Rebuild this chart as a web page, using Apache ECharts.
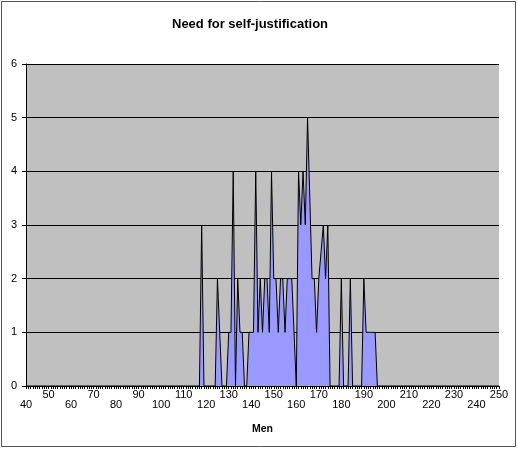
<!DOCTYPE html>
<html>
<head>
<meta charset="utf-8">
<script src="https://cdn.jsdelivr.net/npm/echarts@6/dist/echarts.min.js"></script>
<style>
html,body{margin:0;padding:0;background:#fff;}
#chart{width:518px;height:449px;}
</style>
</head>
<body>
<div id="chart"></div>
<script>
// x values (Men)
var men = [
  40,41,42,43,44,45,46,47,48,49,
  50,51,52,53,54,55,56,57,58,59,
  60,61,62,63,64,65,66,67,68,69,
  70,71,72,73,74,75,76,77,78,79,
  80,81,82,83,84,85,86,87,88,89,
  90,91,92,93,94,95,96,97,98,99,
  100,101,102,103,104,105,106,107,108,109,
  110,111,112,113,114,115,116,117,118,119,
  120,121,122,123,124,125,126,127,128,129,
  130,131,132,133,134,135,136,137,138,139,
  140,141,142,143,144,145,146,147,148,149,
  150,151,152,153,154,155,156,157,158,159,
  160,161,162,163,164,165,166,167,168,169,
  170,171,172,173,174,175,176,177,178,179,
  180,181,182,183,184,185,186,187,188,189,
  190,191,192,193,194,195,196,197,198,199,
  200,201,202,203,204,205,206,207,208,209,
  210,211,212,213,214,215,216,217,218,219,
  220,221,222,223,224,225,226,227,228,229,
  230,231,232,233,234,235,236,237,238,239,
  240,241,242,243,244,245,246,247,248,249,
  250
];
// frequency values
var counts = [
  0,0,0,0,0,0,0,0,0,0,
  0,0,0,0,0,0,0,0,0,0,
  0,0,0,0,0,0,0,0,0,0,
  0,0,0,0,0,0,0,0,0,0,
  0,0,0,0,0,0,0,0,0,0,
  0,0,0,0,0,0,0,0,0,0,
  0,0,0,0,0,0,0,0,0,0,
  0,0,0,0,0,0,0,0,3,0,
  0,0,0,0,0,2,1,0,0,0,
  1,1,4,0,2,1,1,0,0,1,
  1,1,4,1,2,1,2,2,1,4,
  2,2,1,2,2,1,2,2,2,1,
  0,4,3,4,3,5,3.5,2,2,1,
  2,2.5,3,2,3,0,0,0,0,0,
  2,0,0,0,2,0,0,0,0,0,
  2,1,1,1,1,1,0,0,0,0,
  0,0,0,0,0,0,0,0,0,0,
  0,0,0,0,0,0,0,0,0,0,
  0,0,0,0,0,0,0,0,0,0,
  0,0,0,0,0,0,0,0,0,0,
  0,0,0,0,0,0,0,0,0,0,
  0
];
var titleText = 'Need for self-justification';
var xName = 'Men';

var pairs = men.map(function (m, i) { return [m, counts[i]]; });
var FONT = 'Liberation Sans, Arial, sans-serif';

var chart = echarts.init(document.getElementById('chart'), null, {renderer: 'canvas'});
chart.setOption({
  animation: false,
  backgroundColor: '#ffffff',
  title: {
    text: titleText,
    left: 245, top: 13, textAlign: 'center',
    textStyle: {fontFamily: FONT, fontSize: 13, fontWeight: 'bold', color: '#000'}
  },
  graphic: [{
    type: 'rect', silent: true, z: 100,
    shape: {x: 1.5, y: 1.5, width: 514, height: 445},
    style: {fill: 'none', stroke: '#555', lineWidth: 1}
  }],
  grid: {
    left: 26, right: 19, top: 64, bottom: 63,
    show: true, backgroundColor: '#C0C0C0', borderWidth: 0
  },
  xAxis: [{
    type: 'value', min: 40, max: 250, interval: 10, position: 'bottom',
    axisLine: {show: true, onZero: false, lineStyle: {color: '#000', width: 1}},
    axisTick: {show: true, length: 3, lineStyle: {color: '#000'}},
    minorTick: {show: true, splitNumber: 10, length: 3, lineStyle: {color: '#000'}},
    splitLine: {show: false},
    axisLabel: {
      margin: 3, fontFamily: FONT, fontSize: 11, color: '#000',
      formatter: function (v) { return ((v - 40) / 10) % 2 === 1 ? String(v) : ''; }
    },
    name: xName, nameLocation: 'middle', nameGap: 38,
    nameTextStyle: {fontFamily: FONT, fontSize: 10.5, fontWeight: 'bold', color: '#000'}
  }, {
    type: 'value', min: 40, max: 250, interval: 10, position: 'bottom',
    axisLine: {show: false}, axisTick: {show: false}, splitLine: {show: false},
    axisLabel: {
      margin: 13, fontFamily: FONT, fontSize: 11, color: '#000',
      formatter: function (v) { return ((v - 40) / 10) % 2 === 0 ? String(v) : ''; }
    }
  }],
  yAxis: {
    type: 'value', min: 0, max: 6, interval: 1,
    axisLine: {show: true, lineStyle: {color: '#000', width: 1}},
    axisTick: {show: true, length: 4, lineStyle: {color: '#000'}},
    axisLabel: {margin: 9, fontFamily: FONT, fontSize: 11, color: '#000'},
    splitLine: {show: true, lineStyle: {color: '#000', width: 1}}
  },
  series: [{
    type: 'line', xAxisIndex: 0, data: pairs, symbol: 'none',
    lineStyle: {color: '#000', width: 1},
    areaStyle: {color: '#9999FF', opacity: 1}
  }]
});
</script>
</body>
</html>
